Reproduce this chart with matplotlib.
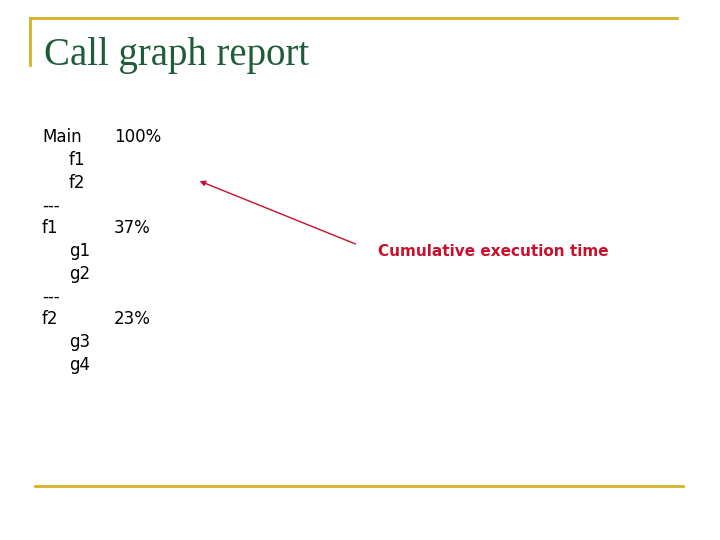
import matplotlib.pyplot as plt

# call graph rows: (label, indent, percent)
labels = ["Main", "f1", "f2", "---", "f1", "g1", "g2", "---", "f2", "g3", "g4"]
indents = [0, 1, 1, 0, 0, 1, 1, 0, 0, 1, 1]
percents = ["100%", "", "", "", "37%", "", "", "", "23%", "", ""]

W, H = 720, 540
fig = plt.figure(figsize=(7.2, 5.4), dpi=100)
ax = fig.add_axes([0, 0, 1, 1])
ax.set_xlim(0, W)
ax.set_ylim(H, 0)
ax.axis("off")

gold = "#d4b226"
ax.plot([30, 677], [18, 18], color=gold, lw=2)
ax.plot([30, 30], [18, 65], color=gold, lw=2)
ax.plot([35, 683], [486, 486], color=gold, lw=2)

ax.text(44, 65, "Call graph report", fontsize=28, family="Liberation Serif",
        color="#1f5c3a", va="baseline")

for i, (lab, ind, pct) in enumerate(zip(labels, indents, percents)):
    y = 137 + i * 22.8
    ax.text(42 + ind * 27, y, lab, fontsize=12, family="DejaVu Sans",
            va="center", color="black")
    if pct:
        ax.text(114, y, pct, fontsize=12, family="DejaVu Sans",
                va="center", color="black")

red = "#c8102e"
ax.annotate("", xy=(197, 180), xytext=(358, 245),
            arrowprops=dict(arrowstyle="-|>", color=red, lw=1, mutation_scale=8))
ax.text(378, 251, "Cumulative execution time", fontsize=11, color=red,
        family="DejaVu Sans", weight="semibold", va="center")

fig.savefig("out.png", dpi=100)
